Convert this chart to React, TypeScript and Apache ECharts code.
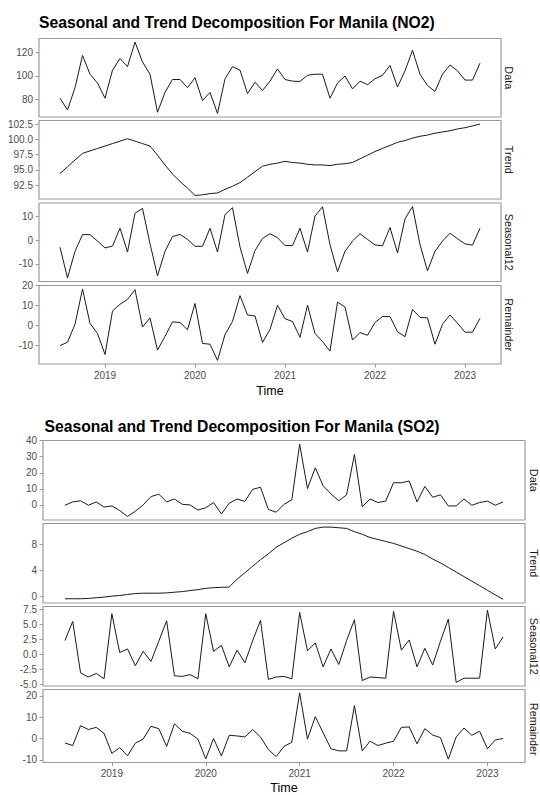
import React, { useEffect, useRef } from "react";
import * as echarts from "echarts";

// Monthly series: July 2018 .. March 2023 (57 months)
const START_YEAR = 2018;
const START_MONTH = 7;
const yearTicks = [2019, 2020, 2021, 2022, 2023];
const panelNames = ["Data", "Trend", "Seasonal12", "Remainder"];

const no2Data = [81, 71, 90, 117.6, 101.5, 94, 81, 105, 115, 108, 129, 112, 101.5, 69, 86, 97, 97, 90, 98.5, 79, 86, 68, 97.6, 108, 105, 85, 94.7, 87.6, 95.6, 106, 97, 95.6, 95.3, 100.6, 101.5, 101.5, 81, 94, 100, 89, 95.6, 92.6, 97.6, 100.6, 109, 90.6, 104.4, 122, 101.5, 91.8, 86.8, 101.5, 109.4, 104.4, 96.5, 96.5, 111];
const no2Trend = [94.4, 95.5, 96.6, 97.7, 98.1, 98.5, 98.9, 99.3, 99.7, 100.1, 99.7, 99.3, 98.9, 97.4, 95.8, 94.3, 93.1, 92.0, 90.8, 90.9, 91.1, 91.2, 91.8, 92.3, 92.9, 93.8, 94.7, 95.6, 95.9, 96.1, 96.4, 96.2, 96.1, 95.9, 95.8, 95.8, 95.7, 95.9, 96.0, 96.2, 96.8, 97.4, 98.0, 98.5, 99.0, 99.5, 99.8, 100.2, 100.5, 100.7, 101.0, 101.2, 101.4, 101.7, 101.9, 102.2, 102.5];
const no2Seasonal = [-3, -15.9, -4.7, 2.3, 2.3, -0.4, -3.3, -2.5, 5, -5, 11.3, 13.3, -1.5, -15, -4.7, 1.5, 2.4, 0.3, -2.6, -2.6, 5, -5, 10.7, 13.6, -2.9, -14, -4.4, 0.7, 2.7, 1, -2.3, -2.3, 5, -5, 10.1, 14, -1.9, -13.3, -4.7, -0.4, 2.7, 0.3, -2, -2.4, 5.3, -5.4, 8.9, 14.1, -1.9, -12.9, -4.7, -0.4, 2.9, 0.6, -1.6, -2.1, 5];
const no2Remainder = [-10.3, -8.6, 0.5, 18.3, 0.9, -4.2, -14.8, 7.2, 10.6, 13.1, 18, -0.9, 3.7, -12.6, -5.6, 1.7, 1.4, -2.3, 11, -9.2, -9.6, -17.8, -4.7, 1.9, 15, 5.2, 4.7, -8.7, -2.1, 10.1, 3.3, 1.9, -6.1, 10.1, -4.2, -8.2, -13.1, 11.7, 9.2, -7.5, -3.7, -5.1, 1.4, 4.4, 4.4, -3.3, -5.8, 8, 4, 3.7, -9.6, 0.5, 5.2, 1, -3.5, -3.5, 3.5];

const so2Data = [-0.2, 1.9, 2.6, -0.2, 1.9, -1.3, -0.6, -3.5, -7.1, -3.9, 0, 5.2, 6.7, 1.9, 3.7, 0.4, 0, -3.2, -1.7, 1.5, -5.6, 1.1, 3.7, 2.2, 9.7, 11, -2.8, -4.5, 0.4, 3.2, 37.8, 10.2, 23.1, 11.9, 6.9, 2.6, 6.3, 31.4, -1.1, 3.7, 1.5, 2.4, 13.8, 13.8, 14.9, 1.9, 11.5, 4.8, 6.3, -0.6, -0.6, 3.7, -0.2, 1.5, 2.4, -0.2, 1.9];
const so2Trend = [-0.4, -0.4, -0.4, -0.35, -0.25, -0.15, 0.0, 0.1, 0.25, 0.4, 0.45, 0.45, 0.45, 0.5, 0.6, 0.7, 0.85, 1.0, 1.2, 1.3, 1.35, 1.4, 2.6, 3.6, 4.6, 5.6, 6.5, 7.5, 8.2, 8.9, 9.5, 9.9, 10.4, 10.6, 10.6, 10.5, 10.4, 9.9, 9.5, 9.0, 8.7, 8.4, 8.1, 7.7, 7.3, 6.9, 6.4, 5.7, 5.1, 4.4, 3.7, 3.0, 2.3, 1.6, 0.9, 0.2, -0.5];
const so2Seasonal = [2.3, 5.5, -3.1, -3.8, -3.2, -4.1, 6.8, 0.3, 0.9, -1.9, 0.5, -1.2, 2.2, 5.6, -3.6, -3.7, -3.4, -4.1, 6.8, 0.5, 1.5, -2.1, 0.7, -1.4, 2.3, 5.7, -4.2, -3.8, -3.7, -4.1, 7.0, 0.6, 1.9, -2.1, 0.9, -1.7, 2.3, 5.8, -4.4, -3.8, -3.9, -4.0, 7.2, 0.7, 2.4, -2.1, 1.0, -1.8, 2.2, 5.9, -4.7, -4.0, -4.0, -4.0, 7.4, 0.9, 2.9];
const so2Remainder = [-2.1, -3.3, 6.0, 4.2, 5.2, 2.4, -7.0, -4.3, -8.1, -2.2, -0.3, 5.7, 4.6, -3.7, 6.9, 3.4, 2.4, -0.3, -9.6, 0, -8.2, 1.5, 1.2, 0.7, 4.2, 0.7, -5.2, -8.5, -3.7, -1.8, 21.4, -0.3, 10.2, 2.7, -4.8, -5.8, -5.8, 15.4, -5.8, -1.3, -3.3, -2.2, -1.3, 5.2, 5.4, -2.5, 4.6, 1.6, 0.4, -9.7, 0.7, 4.9, 1.5, 3.4, -4.8, -0.7, 0];

const no2TickValues = [[80, 100, 120], [92.5, 95, 97.5, 100, 102.5], [-10, 0, 10], [-10, 0, 10, 20]];
const so2TickValues = [[0, 10, 20, 30, 40], [0, 4, 8], [-5, -2.5, 0, 2.5, 5, 7.5], [-10, 0, 10, 20]];
const no2Decimals = [0, 1, 0, 0];
const so2Decimals = [0, 0, 1, 0];

const FONT = '"Liberation Sans", Arial, sans-serif';
const AXIS_GREY = "#4D4D4D";
const BORDER = "#9a9a9a";

const toTime = (i: number) => START_YEAR + (START_MONTH - 1 + i) / 12;

const figures = [
  {
    title: "Seasonal and Trend Decomposition For Manila (NO2)",
    titleX: 39, titleY: 22,
    left: 39, width: 462,
    tops: [38.5, 120.5, 203, 285.5], height: 78.5,
    stripX: 509,
    series: [no2Data, no2Trend, no2Seasonal, no2Remainder],
    ticks: no2TickValues, decimals: no2Decimals,
    labelMargin: 6.5, nameGap: 20.5,
  },
  {
    title: "Seasonal and Trend Decomposition For Manila (SO2)",
    titleX: 44.5, titleY: 426,
    left: 43, width: 482,
    tops: [440.5, 523.5, 606.5, 689.5], height: 79.5,
    stripX: 534,
    series: [so2Data, so2Trend, so2Seasonal, so2Remainder],
    ticks: so2TickValues, decimals: so2Decimals,
    labelMargin: 6, nameGap: 18.5,
  },
];

function buildOption() {
  const grid: any[] = [];
  const xAxis: any[] = [];
  const yAxis: any[] = [];
  const series: any[] = [];
  const graphic: any[] = [];
  const n = no2Data.length;
  const xMin = toTime(0) - 0.05 * (toTime(n - 1) - toTime(0));
  const xMax = toTime(n - 1) + 0.05 * (toTime(n - 1) - toTime(0));

  figures.forEach((fig) => {
    graphic.push({
      type: "text",
      x: fig.titleX,
      y: fig.titleY,
      style: {
        text: fig.title,
        font: `bold 15.7px ${FONT}`,
        fill: "#000",
        textAlign: "left",
        textVerticalAlign: "middle",
      },
    });
    fig.series.forEach((vals, p) => {
      const idx = grid.length;
      const isLast = p === fig.series.length - 1;
      grid.push({
        left: fig.left,
        top: fig.tops[p],
        width: fig.width,
        height: fig.height,
        show: true,
        borderColor: BORDER,
        borderWidth: 1.2,
        backgroundColor: "#fff",
        containLabel: false,
      });
      xAxis.push({
        type: "value",
        gridIndex: idx,
        position: "bottom",
        min: xMin,
        max: xMax,
        axisLine: { show: false, onZero: false },
        splitLine: { show: false },
        axisTick: isLast
          ? { show: true, customValues: yearTicks, length: 3.5, lineStyle: { color: BORDER, width: 1 } }
          : { show: false },
        axisLabel: isLast
          ? {
              show: true,
              customValues: yearTicks,
              color: AXIS_GREY,
              fontSize: 10,
              fontFamily: FONT,
              margin: fig.labelMargin,
              formatter: (v: number) => String(Math.round(v)),
            }
          : { show: false },
        name: isLast ? "Time" : "",
        nameLocation: "middle",
        nameGap: fig.nameGap,
        nameTextStyle: { color: "#000", fontSize: 12.5, fontFamily: FONT },
      });
      const lo = Math.min(...vals);
      const hi = Math.max(...vals);
      const pad = (hi - lo) * 0.05;
      const dec = fig.decimals[p];
      yAxis.push({
        type: "value",
        gridIndex: idx,
        position: "left",
        min: lo - pad,
        max: hi + pad,
        axisLine: { show: false, onZero: false },
        splitLine: { show: false },
        axisTick: { show: true, customValues: fig.ticks[p], length: 3.5, lineStyle: { color: BORDER, width: 1 } },
        axisLabel: {
          show: true,
          customValues: fig.ticks[p],
          color: AXIS_GREY,
          fontSize: 10,
          fontFamily: FONT,
          margin: 6,
          formatter: (v: number) => v.toFixed(dec),
        },
      });
      series.push({
        type: "line",
        xAxisIndex: idx,
        yAxisIndex: idx,
        data: vals.map((v, i) => [toTime(i), v]),
        showSymbol: false,
        symbol: "none",
        lineStyle: { color: "#1a1a1a", width: 1 },
        silent: true,
      });
      graphic.push({
        type: "text",
        x: fig.stripX,
        y: fig.tops[p] + fig.height / 2,
        rotation: -Math.PI / 2,
        style: {
          text: panelNames[p],
          font: `10.8px ${FONT}`,
          fill: "#1a1a1a",
          textAlign: "center",
          textVerticalAlign: "middle",
        },
      });
    });
  });

  return {
    animation: false,
    backgroundColor: "#fff",
    textStyle: { fontFamily: FONT },
    grid,
    xAxis,
    yAxis,
    series,
    graphic,
  };
}

export default function App() {
  const ref = useRef<HTMLDivElement>(null);
  useEffect(() => {
    if (!ref.current) return;
    const chart = echarts.init(ref.current, undefined, { renderer: "svg" });
    chart.setOption(buildOption() as any);
    return () => chart.dispose();
  }, []);
  return (
    <div
      ref={ref}
      style={{ position: "fixed", left: 0, top: 0, width: 540, height: 795, background: "#fff" }}
    />
  );
}
